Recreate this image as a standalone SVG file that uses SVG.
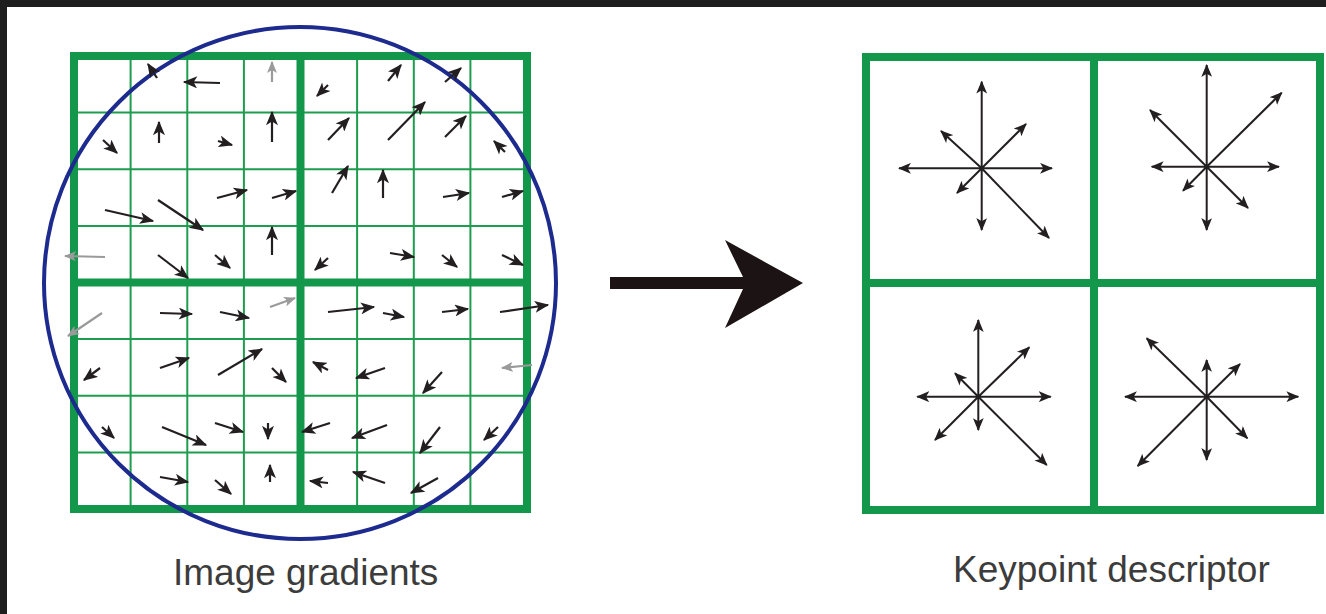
<svg xmlns="http://www.w3.org/2000/svg" width="1326" height="614" viewBox="0 0 1326 614">
<style>
.thin{stroke:#1f9d4e;stroke-width:2;fill:none}
.thick{stroke:#13974a;stroke-width:8;fill:none}
.g line{stroke:#231f20;stroke-width:2.2;marker-end:url(#h)}
.g line.f{stroke:#9a9a9a;marker-end:url(#hf)}
.d line{stroke:#231f20;stroke-width:2;marker-end:url(#dh)}
.lbl{font-family:"Liberation Sans",Arial,sans-serif;font-size:37px;fill:#3c3c3c}
</style>
<defs>
<marker id="h" markerUnits="userSpaceOnUse" markerWidth="15" markerHeight="12" viewBox="0 0 12 10" refX="11" refY="5" orient="auto"><path d="M0,0 L12,5 L0,10 L3,5 Z" fill="#231f20"/></marker>
<marker id="hf" markerUnits="userSpaceOnUse" markerWidth="12" markerHeight="10" viewBox="0 0 12 10" refX="11" refY="5" orient="auto"><path d="M0,0 L12,5 L0,10 L3,5 Z" fill="#9a9a9a"/></marker>
<marker id="dh" markerUnits="userSpaceOnUse" markerWidth="13" markerHeight="11" viewBox="0 0 12 10" refX="11" refY="5" orient="auto"><path d="M0,0 L12,5 L0,10 L3,5 Z" fill="#231f20"/></marker>
</defs>
<rect x="0" y="0" width="1326" height="614" fill="#ffffff"/>
<rect x="0" y="0" width="1326" height="7" fill="#1e1e1e"/>
<rect x="0" y="0" width="7" height="614" fill="#1e1e1e"/>

<g id="image-gradients">
<g id="grid">
<path class="thin" d="M130.6,56V509M187.3,56V509M243.9,56V509M357.1,56V509M413.8,56V509M470.4,56V509M74,112.6H527M74,169.3H527M74,225.9H527M74,339.1H527M74,395.8H527M74,452.4H527"/>
<rect class="thick" x="74" y="56" width="453" height="453"/>
<path class="thick" d="M300.5,56V509M74,282.5H527"/>
</g>
<circle id="window" cx="300" cy="283" r="256" fill="none" stroke="#1d2a8e" stroke-width="4"/>
<g id="gradients" class="g">
<line x1="157" y1="78" x2="148" y2="64"/>
<line x1="220" y1="83" x2="184" y2="82"/>
<line class="f" x1="272" y1="82" x2="272" y2="62"/>
<line x1="328" y1="85" x2="317" y2="96"/>
<line x1="388" y1="81" x2="401" y2="65"/>
<line x1="445" y1="82" x2="461" y2="68"/>

<line x1="103" y1="140" x2="117" y2="153"/>
<line x1="159" y1="143" x2="159" y2="122"/>
<line x1="218" y1="141" x2="232" y2="145"/>
<line x1="272" y1="142" x2="272" y2="112"/>
<line x1="328" y1="140" x2="349" y2="118"/>
<line x1="388" y1="140" x2="425" y2="102"/>
<line x1="445" y1="137" x2="466" y2="116"/>
<line x1="505" y1="152" x2="494" y2="141"/>

<line x1="105" y1="210" x2="153" y2="221"/>
<line x1="158" y1="200" x2="203" y2="230"/>
<line x1="217" y1="198" x2="247" y2="190"/>
<line x1="272" y1="198" x2="296" y2="191"/>
<line x1="332" y1="193" x2="348" y2="166"/>
<line x1="383" y1="198" x2="383" y2="170"/>
<line x1="443" y1="197" x2="469" y2="193"/>
<line x1="502" y1="197" x2="523" y2="191"/>

<line class="f" x1="105" y1="257" x2="65" y2="256"/>
<line x1="158" y1="255" x2="188" y2="278"/>
<line x1="215" y1="255" x2="230" y2="268"/>
<line x1="272" y1="255" x2="272" y2="227"/>
<line x1="328" y1="258" x2="315" y2="270"/>
<line x1="390" y1="253" x2="414" y2="257"/>
<line x1="442" y1="255" x2="457" y2="267"/>
<line x1="502" y1="255" x2="523" y2="265"/>

<line class="f" x1="102" y1="313" x2="68" y2="336"/>
<line x1="160" y1="313" x2="192" y2="314"/>
<line x1="220" y1="312" x2="249" y2="318"/>
<line class="f" x1="270" y1="307" x2="295" y2="298"/>
<line x1="328" y1="312" x2="374" y2="307"/>
<line x1="383" y1="313" x2="404" y2="317"/>
<line x1="442" y1="312" x2="468" y2="309"/>
<line x1="500" y1="312" x2="548" y2="305"/>

<line x1="100" y1="368" x2="84" y2="380"/>
<line x1="160" y1="368" x2="189" y2="358"/>
<line x1="218" y1="375" x2="262" y2="349"/>
<line x1="272" y1="368" x2="286" y2="382"/>
<line x1="328" y1="370" x2="313" y2="362"/>
<line x1="385" y1="368" x2="356" y2="378"/>
<line x1="442" y1="372" x2="423" y2="393"/>
<line class="f" x1="532" y1="365" x2="502" y2="368"/>

<line x1="102" y1="427" x2="114" y2="438"/>
<line x1="162" y1="427" x2="206" y2="445"/>
<line x1="215" y1="423" x2="243" y2="432"/>
<line x1="268" y1="423" x2="268" y2="439"/>
<line x1="330" y1="423" x2="302" y2="432"/>
<line x1="387" y1="425" x2="352" y2="438"/>
<line x1="440" y1="427" x2="420" y2="453"/>
<line x1="498" y1="427" x2="484" y2="440"/>

<line x1="160" y1="477" x2="188" y2="482"/>
<line x1="215" y1="480" x2="231" y2="494"/>
<line x1="270" y1="482" x2="270" y2="465"/>
<line x1="328" y1="483" x2="310" y2="481"/>
<line x1="385" y1="483" x2="353" y2="472"/>
<line x1="438" y1="478" x2="411" y2="493"/>
</g>
</g>

<g id="connectors">
<path d="M610,277 H743 L725,240 L803,283 L725,328 L743,289 H610 Z" fill="#1c1414"/>
</g>

<g id="keypoint-descriptor">
<g id="descriptor-grid">
<rect class="thick" x="866" y="57" width="454" height="453"/>
<path class="thick" d="M1094,57V510M866,283H1320"/>
</g>
<g id="hist-tl" class="d">
<line x1="981.7" y1="168.3" x2="981.7" y2="81.7"/>
<line x1="981.7" y1="168.3" x2="981.7" y2="230"/>
<line x1="981.7" y1="168.3" x2="899" y2="168.3"/>
<line x1="981.7" y1="168.3" x2="1052" y2="168.3"/>
<line x1="981.7" y1="168.3" x2="1026" y2="124"/>
<line x1="981.7" y1="168.3" x2="941" y2="131"/>
<line x1="981.7" y1="168.3" x2="957" y2="193"/>
<line x1="981.7" y1="168.3" x2="1049" y2="238"/>
<circle cx="981.7" cy="168.3" r="2.5" fill="#231f20"/>
</g>
<g id="hist-tr" class="d">
<line x1="1206.7" y1="166.7" x2="1206.7" y2="65"/>
<line x1="1206.7" y1="166.7" x2="1206.7" y2="230"/>
<line x1="1206.7" y1="166.7" x2="1151.7" y2="166.7"/>
<line x1="1206.7" y1="166.7" x2="1279" y2="166.7"/>
<line x1="1206.7" y1="166.7" x2="1281.7" y2="92.7"/>
<line x1="1206.7" y1="166.7" x2="1150" y2="110"/>
<line x1="1206.7" y1="166.7" x2="1183" y2="190.7"/>
<line x1="1206.7" y1="166.7" x2="1248" y2="208"/>
<circle cx="1206.7" cy="166.7" r="2.5" fill="#231f20"/>
</g>
<g id="hist-bl" class="d">
<line x1="978.3" y1="396.7" x2="978.3" y2="320"/>
<line x1="978.3" y1="396.7" x2="978.3" y2="430"/>
<line x1="978.3" y1="396.7" x2="917.3" y2="396.7"/>
<line x1="978.3" y1="396.7" x2="1050.7" y2="396.7"/>
<line x1="978.3" y1="396.7" x2="1029.3" y2="347.3"/>
<line x1="978.3" y1="396.7" x2="955" y2="373.3"/>
<line x1="978.3" y1="396.7" x2="935" y2="440"/>
<line x1="978.3" y1="396.7" x2="1046.7" y2="465"/>
<circle cx="978.3" cy="396.7" r="2.5" fill="#231f20"/>
</g>
<g id="hist-br" class="d">
<line x1="1206.7" y1="396.7" x2="1206.7" y2="360"/>
<line x1="1206.7" y1="396.7" x2="1206.7" y2="460"/>
<line x1="1206.7" y1="396.7" x2="1125" y2="396.7"/>
<line x1="1206.7" y1="396.7" x2="1298.3" y2="396.7"/>
<line x1="1206.7" y1="396.7" x2="1240" y2="364"/>
<line x1="1206.7" y1="396.7" x2="1146.7" y2="338.3"/>
<line x1="1206.7" y1="396.7" x2="1137.7" y2="466"/>
<line x1="1206.7" y1="396.7" x2="1247.3" y2="438.3"/>
<circle cx="1206.7" cy="396.7" r="2.5" fill="#231f20"/>
</g>
</g>

<g id="labels">
<text class="lbl" x="173" y="585">Image gradients</text>
<text class="lbl" x="953" y="582">Keypoint descriptor</text>
</g>
</svg>
